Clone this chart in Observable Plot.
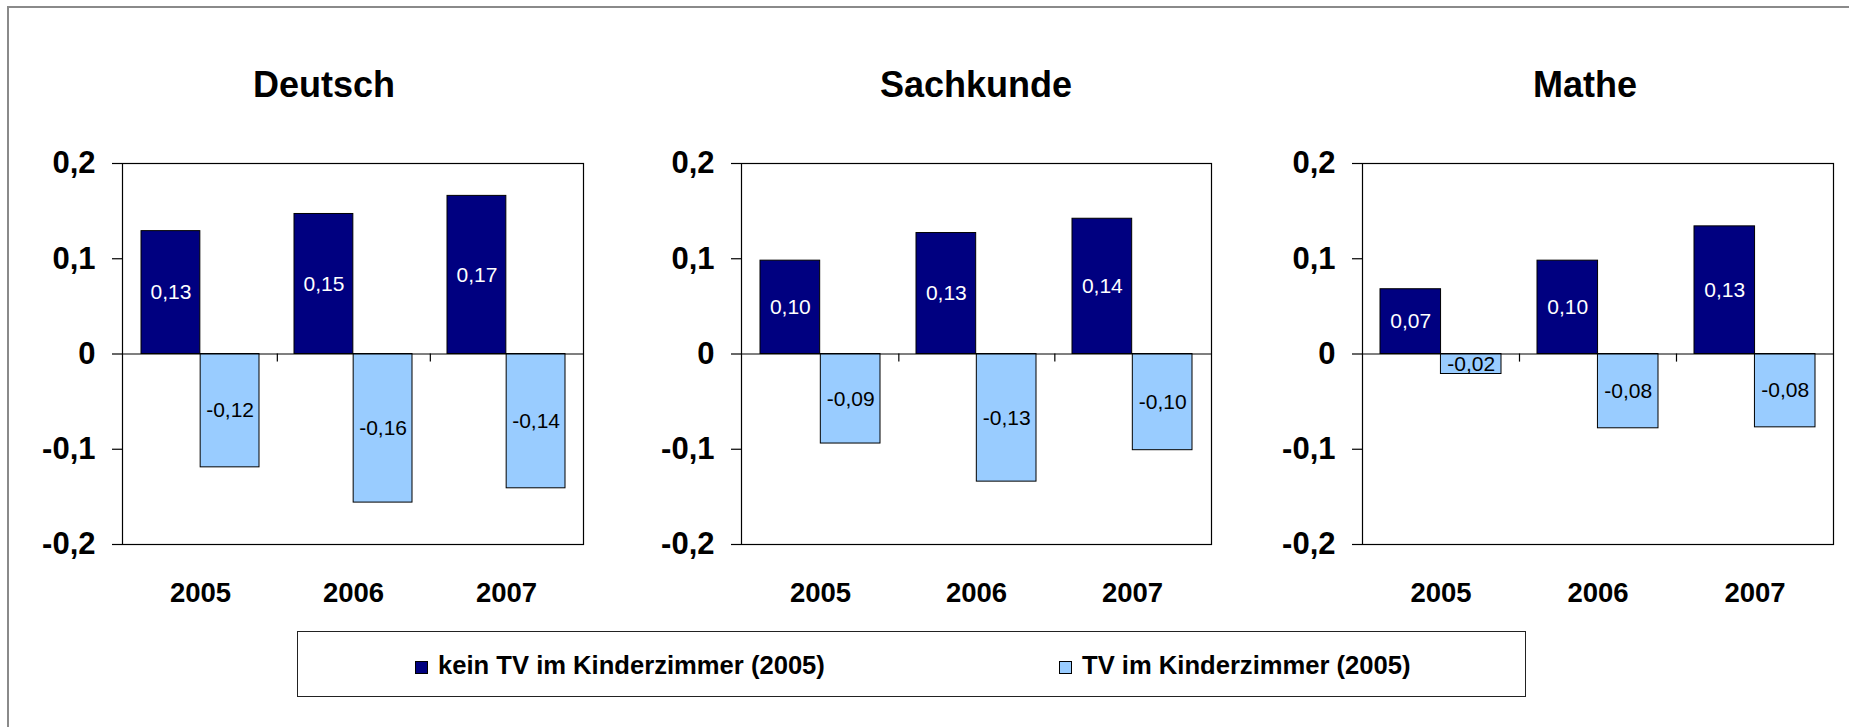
<!DOCTYPE html>
<html><head><meta charset="utf-8">
<script src="https://cdn.jsdelivr.net/npm/d3@7"></script>
<script src="https://cdn.jsdelivr.net/npm/@observablehq/plot@0.6"></script>
<style>
html,body{margin:0;padding:0;background:#fff;overflow:hidden;}
#root{position:relative;width:1849px;height:727px;overflow:hidden;font-family:"Liberation Sans",Arial,sans-serif;color:#000;}
#border{position:absolute;left:7px;top:6px;width:1900px;height:800px;border-top:2.5px solid #8a8a8a;border-left:2px solid #8a8a8a;}
.title{position:absolute;top:67px;font-size:36px;font-weight:bold;line-height:36px;transform:translateX(-50%);white-space:nowrap;}
.panel{position:absolute;top:120px;}
.panel svg{overflow:visible;}
#legend{position:absolute;left:297px;top:631px;width:1229px;height:66px;border:1.5px solid #222;box-sizing:border-box;}
.sw{position:absolute;top:28.5px;width:13px;height:13px;box-sizing:border-box;border:1px solid #000;}
.lt{position:absolute;top:20.5px;font-size:25.6px;font-weight:bold;line-height:25.6px;white-space:nowrap;}
</style>
</head><body>
<div id="root"><div id="border"></div></div>
<script>
// ---- data ----
const subjects = ["Deutsch", "Sachkunde", "Mathe"];
const years = ["2005", "2006", "2007"];
const seriesNames = ["kein TV im Kinderzimmer (2005)", "TV im Kinderzimmer (2005)"];
const seriesColors = ["#000080", "#99CCFF"];
const labelColors = ["#ffffff", "#000000"];
const deutschKein = [0.129, 0.147, 0.166];
const deutschTV = [-0.119, -0.156, -0.141];
const sachkundeKein = [0.098, 0.127, 0.142];
const sachkundeTV = [-0.094, -0.134, -0.101];
const matheKein = [0.068, 0.098, 0.134];
const matheTV = [-0.021, -0.078, -0.077];
const yTicks = [-0.2, -0.1, 0, 0.1, 0.2];
const yDomain = [-0.2, 0.2];

const seriesBySubject = {
  Deutsch: [deutschKein, deutschTV],
  Sachkunde: [sachkundeKein, sachkundeTV],
  Mathe: [matheKein, matheTV]
};

// ---- layout ----
const layout = [
  {left: 0, marginLeft: 122, inner: 461, titleX: 324},
  {left: 620, marginLeft: 121, inner: 470, titleX: 976},
  {left: 1230, marginLeft: 132, inner: 471, titleX: 1585}
];
const marginTop = 43, innerH = 381, marginBottom = 70, marginRight = 6;
const padIn = 0.23, padOut = 0.115;

const comma = v => v.toFixed(2).replace(".", ",");
const tickFmt = d => d === 0 ? "0" : d.toFixed(1).replace(".", ",");

const root = document.getElementById("root");

subjects.forEach((subj, si) => {
  const L = layout[si];
  const [kein, tv] = seriesBySubject[subj];
  const rows = [];
  years.forEach((y, i) => {
    rows.push({year: y, s: 0, v: kein[i]});
    rows.push({year: y, s: 1, v: tv[i]});
  });
  const step = L.inner / years.length;
  const bw = step * (1 - padIn);
  const width = L.marginLeft + L.inner + marginRight;
  const height = marginTop + innerH + marginBottom;

  const chart = Plot.plot({
    width, height,
    marginLeft: L.marginLeft, marginRight, marginTop, marginBottom,
    style: {fontFamily: '"Liberation Sans", Arial, sans-serif', color: "#000", background: "transparent", overflow: "visible"},
    x: {type: "band", domain: years, paddingInner: padIn, paddingOuter: padOut, align: 0.5},
    y: {domain: yDomain, ticks: yTicks},
    marks: [
      Plot.frame({stroke: "#000", strokeWidth: 1.2}),
      Plot.barY(rows.filter(d => d.s === 0), {x: "year", y: "v", fill: seriesColors[0], stroke: "#000", strokeWidth: 1, insetRight: bw / 2}),
      Plot.barY(rows.filter(d => d.s === 1), {x: "year", y: "v", fill: seriesColors[1], stroke: "#000", strokeWidth: 1, insetLeft: bw / 2}),
      Plot.ruleY([0], {stroke: "#000", strokeWidth: 1.2}),
      Plot.ruleX(years.slice(0, -1), {x: d => d, y1: 0, y2: -0.0085, dx: step / 2, stroke: "#000", strokeWidth: 1.2}),
      Plot.text(rows.filter(d => d.s === 0), {x: "year", y: d => d.v / 2, text: d => comma(d.v), dx: -bw / 4, fill: labelColors[0], fontSize: 21}),
      Plot.text(rows.filter(d => d.s === 1), {x: "year", y: d => d.v / 2, text: d => comma(d.v), dx: bw / 4, fill: labelColors[1], fontSize: 21}),
      Plot.axisY(yTicks, {tickSize: 10, tickPadding: 17, tickFormat: tickFmt, fontSize: 31, fontWeight: "bold", label: null, stroke: "#000", strokeWidth: 1.2}),
      Plot.axisX({tickSize: 0, tickPadding: 38, fontSize: 27.5, fontWeight: "bold", label: null})
    ]
  });

  const wrap = document.createElement("div");
  wrap.className = "panel";
  wrap.style.left = L.left + "px";
  wrap.appendChild(chart);
  root.appendChild(wrap);

  const t = document.createElement("div");
  t.className = "title";
  t.style.left = L.titleX + "px";
  t.textContent = subj;
  root.appendChild(t);
});

// ---- legend ----
const legend = document.createElement("div");
legend.id = "legend";
const legendPos = [{sw: 117, tx: 140}, {sw: 761, tx: 784}];
seriesNames.forEach((name, i) => {
  const sw = document.createElement("div");
  sw.className = "sw";
  sw.style.left = legendPos[i].sw + "px";
  sw.style.background = seriesColors[i];
  legend.appendChild(sw);
  const tx = document.createElement("div");
  tx.className = "lt";
  tx.style.left = legendPos[i].tx + "px";
  tx.textContent = name;
  legend.appendChild(tx);
});
root.appendChild(legend);
</script>
</body></html>
